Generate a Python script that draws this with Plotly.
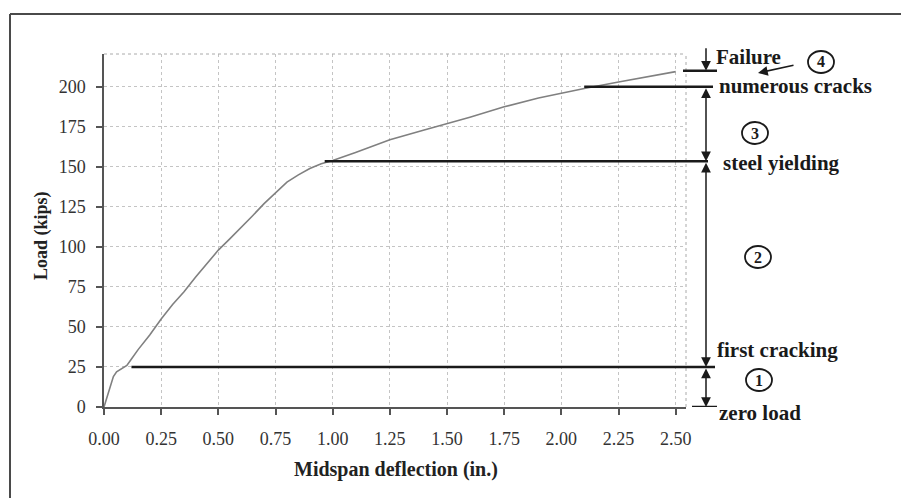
import plotly.graph_objects as go

# ---------------- data ----------------
deflection = [0.00, 0.01, 0.026, 0.041, 0.055, 0.077, 0.10, 0.12, 0.15, 0.20, 0.25,
              0.30, 0.35, 0.40, 0.45, 0.50, 0.55, 0.60, 0.65, 0.70, 0.75, 0.80, 0.85,
              0.90, 0.95, 1.00, 1.10, 1.25, 1.40, 1.50, 1.60, 1.75, 1.90, 2.00, 2.10,
              2.25, 2.40, 2.50]
load = [0, 5, 12.7, 19, 22, 24, 26, 30, 36, 45, 55,
        64, 72, 81, 89.5, 98, 105, 112, 119.5, 127, 134, 140.5, 145,
        149, 152, 154, 159, 167, 173, 177, 181, 187.5, 193, 196, 199,
        203, 207, 209.5]

x_ticks = [0.00, 0.25, 0.50, 0.75, 1.00, 1.25, 1.50, 1.75, 2.00, 2.25, 2.50]
y_ticks = [0, 25, 50, 75, 100, 125, 150, 175, 200]

# stage levels (kips) and where their marker lines start (in.)
level_names = ["zero load", "first cracking", "steel yielding", "numerous cracks", "Failure"]
level_loads = [0, 25, 153.5, 200, 210]
level_starts = [None, 0.12, 0.965, 2.10, None]
stage_labels = ["1", "2", "3", "4"]

X_MAX = 2.545
Y_MAX = 220.5

# plot-area pixel geometry
L, R, T, B = 104, 686, 54, 407
W, H = 901, 498


def px(x):
    return (x - L) / (R - L)


def py(y):
    return (B - y) / (B - T)


def dx(d):
    return d / X_MAX


SERIF = "Liberation Serif, Times New Roman, serif"
INK = "#1a1a1a"

fig = go.Figure()
fig.add_trace(go.Scatter(x=deflection, y=load, mode="lines",
                         line=dict(color="#808080", width=1.6), showlegend=False,
                         hoverinfo="skip"))

shapes = []
# outer frame (left and top edges)
shapes.append(dict(type="line", xref="paper", yref="paper", x0=px(10), x1=px(10),
                   y0=py(14), y1=py(500), line=dict(color="#4a4a4a", width=2)))
shapes.append(dict(type="line", xref="paper", yref="paper", x0=px(10), x1=px(902),
                   y0=py(14), y1=py(14), line=dict(color="#4a4a4a", width=2)))
# dotted top / right plot borders
shapes.append(dict(type="line", xref="paper", yref="paper", x0=0, x1=1, y0=1, y1=1,
                   line=dict(color="#aaaaaa", width=1, dash="dot")))
shapes.append(dict(type="line", xref="paper", yref="paper", x0=1, x1=1, y0=0, y1=1,
                   line=dict(color="#aaaaaa", width=1, dash="dot")))

# stage lines
line_ends = {"zero load": (px(692), px(717)),
             "first cracking": (None, px(715)),
             "steel yielding": (None, px(708)),
             "numerous cracks": (None, px(713)),
             "Failure": (px(683), px(717))}
for name, ld, st in zip(level_names, level_loads, level_starts):
    a, b = line_ends[name]
    x0 = dx(st) if st is not None else a
    shapes.append(dict(type="line", xref="paper", yref="y", x0=x0, x1=b, y0=ld, y1=ld,
                       line=dict(color=INK, width=2.5)))

# stage circles
circle_pos = [(759, 380), (758, 257), (755, 133), (821, 62)]
for (cx, cy) in circle_pos:
    shapes.append(dict(type="circle", xref="paper", yref="paper",
                       xsizemode="pixel", ysizemode="pixel",
                       xanchor=px(cx), yanchor=py(cy),
                       x0=-13, x1=13, y0=-11, y1=11,
                       line=dict(color=INK, width=1.8)))

annotations = []
# double-headed arrows between stage levels
ARROW_X = px(706)
for lo, hi in [(level_loads[0], level_loads[1]), (level_loads[1], level_loads[2]),
               (level_loads[2], level_loads[3])]:
    annotations.append(dict(xref="paper", yref="y", x=ARROW_X, y=lo, ax=0, ay=hi,
                            axref="pixel", ayref="y", text="", showarrow=True,
                            arrowhead=2, startarrowhead=2, arrowside="end+start",
                            arrowsize=1.3, startarrowsize=1.3, arrowwidth=1.5,
                            arrowcolor=INK, standoff=0, startstandoff=0))
# failure arrow (from above)
annotations.append(dict(xref="paper", yref="y", x=ARROW_X, y=level_loads[4], ax=0, ay=-24,
                        text="", showarrow=True, arrowhead=2, arrowsize=1.3,
                        arrowwidth=1.5, arrowcolor=INK, standoff=0))
# arrow from circle 4
annotations.append(dict(xref="paper", yref="paper", x=px(758), y=py(73), ax=37, ay=-8,
                        text="", showarrow=True, arrowhead=2, arrowsize=1.3,
                        arrowwidth=1.5, arrowcolor=INK, standoff=0))

# stage texts
text_pos = {"Failure": (714, 57), "numerous cracks": (717, 86),
            "steel yielding": (721, 163), "first cracking": (715, 350),
            "zero load": (717, 413)}
for name in level_names:
    tx, ty = text_pos[name]
    annotations.append(dict(xref="paper", yref="paper", x=px(tx), y=py(ty), text=name,
                            showarrow=False, xanchor="left", yanchor="middle",
                            font=dict(family=SERIF, size=21, color=INK, weight="bold")))
for lab, (cx, cy) in zip(stage_labels, circle_pos):
    annotations.append(dict(xref="paper", yref="paper", x=px(cx), y=py(cy), text=lab,
                            showarrow=False, xanchor="center", yanchor="middle",
                            font=dict(family=SERIF, size=16, color=INK, weight="bold")))

# axis titles
annotations.append(dict(xref="paper", yref="paper", x=px(41), y=py(236), text="Load (kips)",
                        textangle=-90, showarrow=False, xanchor="center", yanchor="middle",
                        font=dict(family=SERIF, size=18, color="#222", weight="bold")))
annotations.append(dict(xref="paper", yref="paper", x=px(396), y=py(469),
                        text="Midspan deflection (in.)", showarrow=False,
                        xanchor="center", yanchor="middle",
                        font=dict(family=SERIF, size=20, color="#222", weight="bold")))

fig.update_layout(
    width=W, height=H, margin=dict(l=L, r=W - R, t=T, b=H - B),
    paper_bgcolor="white", plot_bgcolor="white",
    shapes=shapes, annotations=annotations, showlegend=False,
    font=dict(family=SERIF, color="#333"),
)
fig.update_xaxes(range=[0, X_MAX], tickvals=x_ticks, tickformat=".2f",
                 showline=True, linecolor="#555", linewidth=1.5,
                 ticks="outside", ticklen=6, tickcolor="#555", tickwidth=1.5,
                 ticklabelstandoff=9,
                 showgrid=True, gridcolor="#c4c4c4", griddash="dot", gridwidth=1,
                 zeroline=False, tickfont=dict(family=SERIF, size=18, color="#333"))
fig.update_yaxes(range=[0, Y_MAX], tickvals=y_ticks,
                 showline=True, linecolor="#555", linewidth=1.5,
                 ticks="outside", ticklen=6, tickcolor="#555", tickwidth=1.5,
                 ticklabelstandoff=7,
                 showgrid=True, gridcolor="#c4c4c4", griddash="dot", gridwidth=1,
                 zeroline=False, tickfont=dict(family=SERIF, size=18, color="#333"))

fig.write_html("out.html")
